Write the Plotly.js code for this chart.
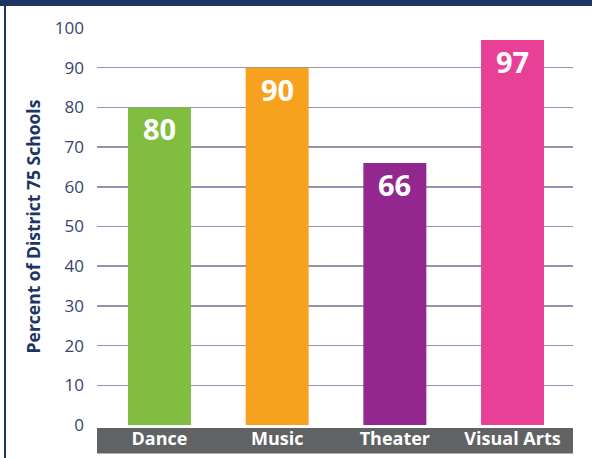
<!DOCTYPE html>
<html>
<head>
<meta charset="utf-8">
<script src="https://cdn.plot.ly/plotly-3.0.1.min.js"></script>
<style>
  html, body { margin: 0; padding: 0; background: #ffffff; }
  #chart { width: 592px; height: 458px; }
</style>
</head>
<body>
<div id="chart"></div>
<script>
const categories = ["Dance", "Music", "Theater", "Visual Arts"];
const values = [80, 90, 66, 97];
const barColors = ["#80bd41", "#f7a21f", "#92278f", "#e94097"];
const yTickValues = [0, 10, 20, 30, 40, 50, 60, 70, 80, 90, 100];
const yTitle = "Percent of District 75 Schools";

const navy = "#1c3564";
const tickColor = "#34456f";
const FONT = "Open Sans, Lato, sans-serif";

const trace = {
  type: "bar",
  x: categories,
  y: values,
  marker: { color: barColors, line: { width: 0 } },
  hoverinfo: "skip",
  textposition: "none"
};

const annotations = categories.map((c, i) => ({
  x: c, y: values[i], xref: "x", yref: "y",
  text: "<b>" + values[i] + "</b>",
  showarrow: false, yanchor: "top", yshift: 0,
  font: { family: FONT, size: 29, color: "#ffffff" }
}));

// plot area: x 97..573, y 28..425
const L = 97, R = 573, T = 28, B = 425, W = R - L, H = B - T;
const px = v => (v - L) / W;
const py = v => (B - v) / H;

const shapes = [
  { type: "rect", xref: "paper", yref: "paper", layer: "below",
    x0: px(0), x1: px(592), y0: py(0), y1: py(6),
    fillcolor: navy, line: { width: 0 } },
  { type: "rect", xref: "paper", yref: "paper", layer: "below",
    x0: px(4), x1: px(6), y0: py(0), y1: py(458),
    fillcolor: navy, line: { width: 0 } },
  { type: "rect", xref: "paper", yref: "paper", layer: "below",
    x0: px(97), x1: px(573), y0: py(428), y1: py(453.5),
    fillcolor: "#616264", line: { width: 0 } }
];

const layout = {
  width: 592, height: 458,
  margin: { l: L, r: 592 - R, t: T, b: 458 - B, pad: 0 },
  paper_bgcolor: "#ffffff", plot_bgcolor: "#ffffff",
  showlegend: false,
  bargap: 0.465,
  font: { family: FONT },
  xaxis: {
    type: "category",
    categoryarray: categories,
    range: [-0.531, 3.514],
    showgrid: false, zeroline: false,
    showline: false, ticks: "",
    tickfont: { family: FONT, size: 18, color: "#ffffff", weight: "bold" },
    ticklabelstandoff: 1,
    fixedrange: true
  },
  yaxis: {
    range: [0, 100],
    tickvals: yTickValues,
    showgrid: true, gridcolor: "#9392b0", gridwidth: 1.5,
    zeroline: false, showline: false, ticks: "",
    tickfont: { family: FONT, size: 17, color: tickColor },
    ticklabelstandoff: 12,
    title: { text: "<b>" + yTitle + "</b>", font: { family: FONT, size: 17.5, color: navy }, standoff: 9 },
    fixedrange: true
  },
  shapes: shapes,
  annotations: annotations
};

Plotly.newPlot("chart", [trace], layout, { displayModeBar: false, staticPlot: true });
</script>
</body>
</html>
